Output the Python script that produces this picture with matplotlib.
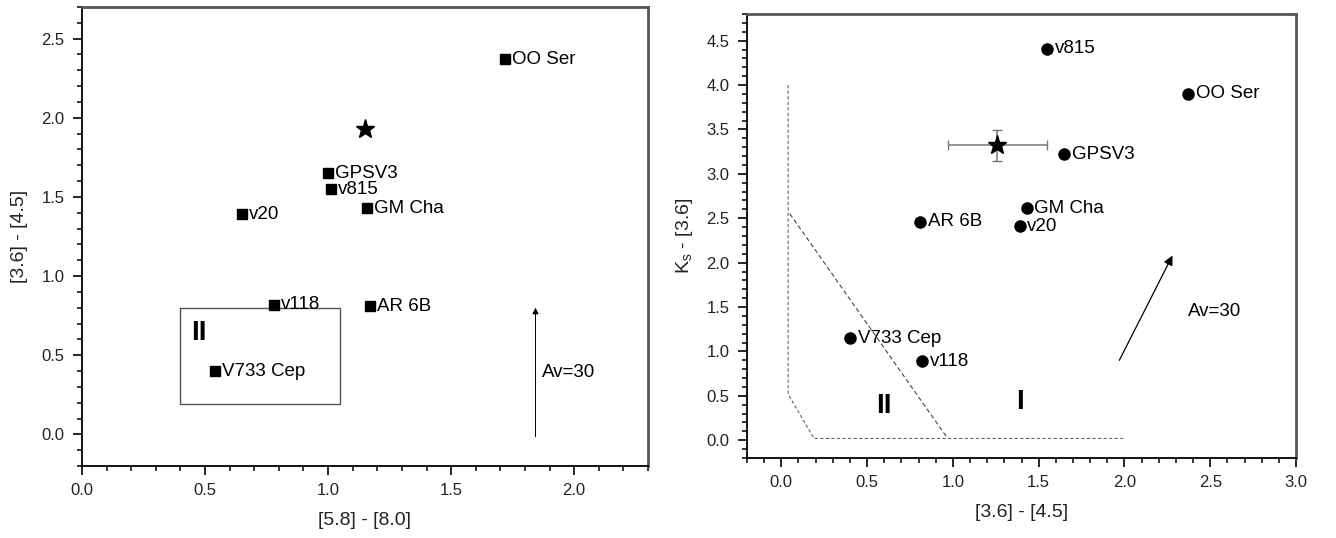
import matplotlib.pyplot as plt
from matplotlib.ticker import MultipleLocator

plt.rcParams['font.family'] = ['Liberation Sans', 'DejaVu Sans']

# IRAC colour-colour diagram: [5.8]-[8.0] vs [3.6]-[4.5]
names_a = ['OO Ser', 'GPSV3', 'v815', 'GM Cha', 'v20', 'v118', 'AR 6B', 'V733 Cep']
x_a = [1.72, 1.00, 1.01, 1.16, 0.65, 0.78, 1.17, 0.54]
y_a = [2.37, 1.65, 1.55, 1.43, 1.39, 0.82, 0.81, 0.40]
star_a = (1.15, 1.93)
box_a = ([0.40, 1.05, 1.05, 0.40, 0.40], [0.80, 0.80, 0.19, 0.19, 0.80])

# Ks-[3.6] vs [3.6]-[4.5]
names_b = ['v815', 'OO Ser', 'GPSV3', 'GM Cha', 'v20', 'AR 6B', 'V733 Cep', 'v118']
x_b = [1.55, 2.37, 1.65, 1.43, 1.39, 0.81, 0.40, 0.82]
y_b = [4.41, 3.90, 3.22, 2.61, 2.41, 2.46, 1.15, 0.89]
star_b = (1.26, 3.32)
star_b_xerr = 0.29
star_b_yerr = 0.17
class_line1 = ([0.04, 0.04, 0.19, 2.00], [4.00, 0.52, 0.02, 0.02])
class_line2 = ([0.05, 0.97], [2.55, 0.02])

fig = plt.figure(figsize=(13.36, 5.38), dpi=100)
ax1 = fig.add_axes([0.0614, 0.1338, 0.4236, 0.8532])
ax2 = fig.add_axes([0.5591, 0.1487, 0.4110, 0.8253])

tick_color = '#222222'
for ax in (ax1, ax2):
    for side in ('left', 'bottom'):
        ax.spines[side].set_linewidth(1.3)
        ax.spines[side].set_color('black')
    for side in ('top', 'right'):
        ax.spines[side].set_linewidth(2.0)
        ax.spines[side].set_color('#555555')
    ax.xaxis.set_major_locator(MultipleLocator(0.5))
    ax.xaxis.set_minor_locator(MultipleLocator(0.1))
    ax.yaxis.set_major_locator(MultipleLocator(0.5))
    ax.yaxis.set_minor_locator(MultipleLocator(0.1))
    ax.tick_params(which='major', direction='out', length=6.5, width=1.2,
                   labelsize=12, labelcolor=tick_color, pad=6)
    ax.tick_params(which='minor', direction='out', length=3.5, width=1.1)
    ax.tick_params(top=False, right=False, which='both')

# left panel
ax1.plot(x_a, y_a, 's', color='black', ms=7, zorder=3)
for n, x, y in zip(names_a, x_a, y_a):
    ax1.annotate(n, (x, y), xytext=(5, 0), textcoords='offset points',
                 ha='left', va='center', fontsize=13.5)
ax1.plot(*star_a, marker='*', color='black', ms=14, ls='none', zorder=3)
ax1.plot(*box_a, color='#555555', lw=1.0)
ax1.text(0.476, 0.64, 'II', fontsize=20, fontweight='bold', ha='center', va='center')
ax1.annotate('', xy=(1.843, 0.80), xytext=(1.843, -0.015),
             arrowprops=dict(arrowstyle='-|>', lw=0.7, color='black', mutation_scale=9,
                             shrinkA=0, shrinkB=0))
ax1.text(1.87, 0.39, 'Av=30', fontsize=13.5, ha='left', va='center')
ax1.set_xlim(0, 2.3)
ax1.set_ylim(-0.2, 2.7)
ax1.set_xlabel('[5.8] - [8.0]', fontsize=14, color=tick_color, labelpad=10)
ax1.set_ylabel('[3.6] - [4.5]', fontsize=14, color=tick_color, labelpad=10)

# right panel
ax2.plot(*class_line1, color='#666666', lw=0.8, ls=(0, (3, 2)))
ax2.plot(*class_line2, color='#444444', lw=0.8, ls=(0, (4, 2.5)))
ax2.plot(x_b, y_b, 'o', color='black', ms=8, zorder=3)
for n, x, y in zip(names_b, x_b, y_b):
    ax2.annotate(n, (x, y), xytext=(5.5, 0), textcoords='offset points',
                 ha='left', va='center', fontsize=13.5)
ax2.errorbar(star_b[0], star_b[1], xerr=star_b_xerr, yerr=star_b_yerr, fmt='none',
             ecolor='#777777', elinewidth=1.1, capsize=3.5, capthick=1.0, zorder=2)
ax2.plot(*star_b, marker='*', color='black', ms=14, ls='none', zorder=3)
ax2.text(0.60, 0.39, 'II', fontsize=20, fontweight='bold', ha='center', va='center')
ax2.text(1.39, 0.43, 'I', fontsize=20, fontweight='bold', ha='center', va='center')
ax2.annotate('', xy=(2.28, 2.08), xytext=(1.97, 0.90),
             arrowprops=dict(arrowstyle='-|>', lw=0.9, color='black', mutation_scale=14,
                             shrinkA=0, shrinkB=0))
ax2.text(2.37, 1.45, 'Av=30', fontsize=13.5, ha='left', va='center')
ax2.set_xlim(-0.2, 3.0)
ax2.set_ylim(-0.2, 4.8)
ax2.set_xlabel('[3.6] - [4.5]', fontsize=14, color=tick_color, labelpad=10)
ax2.set_ylabel(r'K$_\mathregular{s}$ - [3.6]', fontsize=14, color=tick_color, labelpad=8)

fig.savefig('out.png', dpi=100)
